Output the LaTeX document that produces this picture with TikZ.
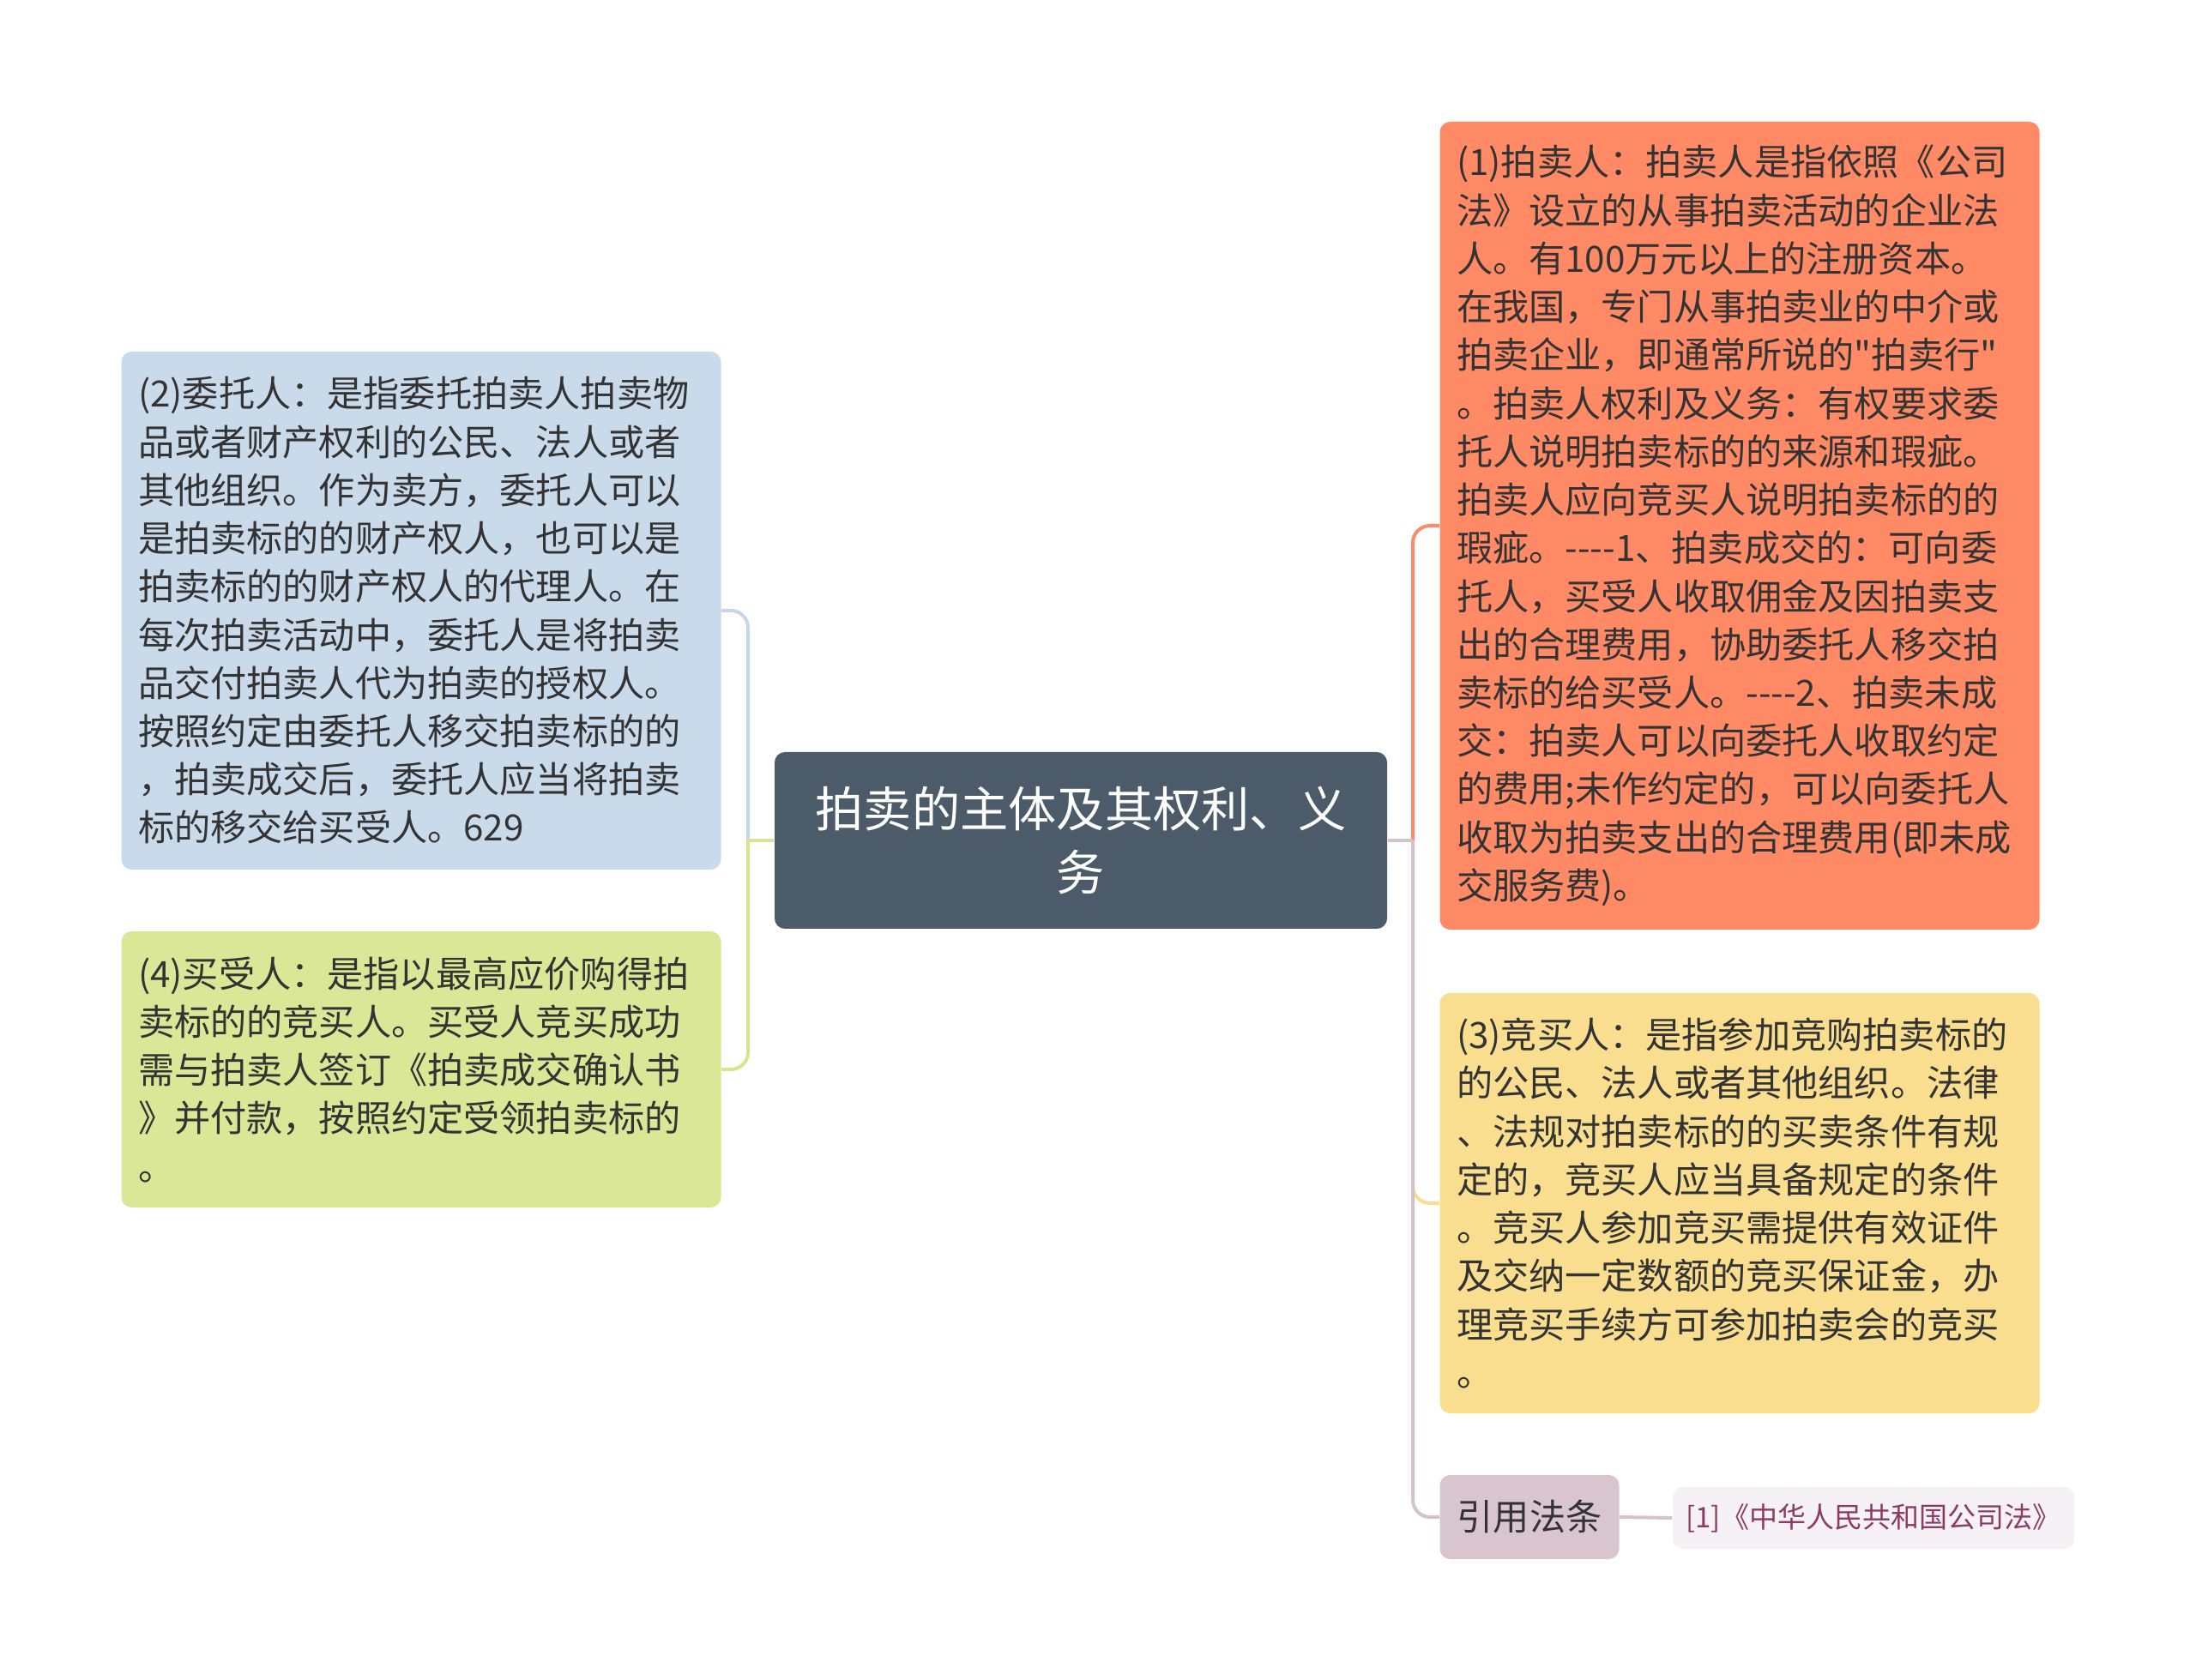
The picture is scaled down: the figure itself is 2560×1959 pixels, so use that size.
\documentclass[tikz,border=0pt]{standalone}
\usepackage{fontspec}
\newfontfamily\cjkfont{Noto Sans CJK SC}
\usepackage{tikz}
\usetikzlibrary{positioning}
\usetikzlibrary{calc}

\definecolor{rootfill}{HTML}{4B5B6A}
\definecolor{coralfill}{HTML}{FF8A65}
\definecolor{bluefill}{HTML}{C9DAEB}
\definecolor{greenfill}{HTML}{DAE796}
\definecolor{yellowfill}{HTML}{F8DE8E}
\definecolor{lavfill}{HTML}{D9C5CE}
\definecolor{notefill}{HTML}{F6F1F4}
\definecolor{notetext}{HTML}{8B3B66}
\definecolor{textgray}{HTML}{333333}
\definecolor{blueline}{HTML}{C3D6EA}
\definecolor{greenline}{HTML}{D6E58E}
\definecolor{lavline}{HTML}{D5C3CC}

\begin{document}
\begin{tikzpicture}[x=0.1mm,y=-0.1mm,
  box/.style={rectangle,rounded corners=1.2mm,inner xsep=1.95mm,text width=66mm,
    align=left,text=textgray,font=\cjkfont\fontsize{12pt}{16pt}\selectfont},
  rootbox/.style={rectangle,rounded corners=1.2mm,fill=rootfill,text=white,
    minimum width=71.4mm,minimum height=20.6mm,text width=65mm,align=center,
    font=\cjkfont\fontsize{16pt}{21pt}\selectfont},
  smallbox/.style={rectangle,rounded corners=1.2mm,align=center,inner sep=0pt},
  conn/.style={line width=0.4mm,rounded corners=2mm}]
\fill[white] (0,0) rectangle (2560,1959);
\useasboundingbox (0,0) rectangle (2560,1959);

\node[rootbox] (root) at (1260,980) {拍卖的主体及其权利、义\\务};

\node[box,fill=coralfill,minimum height=94.2mm] (paimai) at (2028,613) {(1)拍卖人：拍卖人是指依照《公司\\
法》设立的从事拍卖活动的企业法\\
人。有100万元以上的注册资本。\\
在我国，专门从事拍卖业的中介或\\
拍卖企业，即通常所说的"拍卖行"\\
。拍卖人权利及义务：有权要求委\\
托人说明拍卖标的的来源和瑕疵。\\
拍卖人应向竞买人说明拍卖标的的\\
瑕疵。----1、拍卖成交的：可向委\\
托人，买受人收取佣金及因拍卖支\\
出的合理费用，协助委托人移交拍\\
卖标的给买受人。----2、拍卖未成\\
交：拍卖人可以向委托人收取约定\\
的费用;未作约定的，可以向委托人\\
收取为拍卖支出的合理费用(即未成\\
交服务费)。};

\node[box,fill=yellowfill,minimum height=49mm] (jingmai) at (2028,1403) {(3)竞买人：是指参加竞购拍卖标的\\
的公民、法人或者其他组织。法律\\
、法规对拍卖标的的买卖条件有规\\
定的，竞买人应当具备规定的条件\\
。竞买人参加竞买需提供有效证件\\
及交纳一定数额的竞买保证金，办\\
理竞买手续方可参加拍卖会的竞买\\
。};

\node[smallbox,fill=lavfill,text=textgray,minimum width=20.9mm,minimum height=9.8mm,
  font=\cjkfont\fontsize{12pt}{16pt}\selectfont] (yinyong) at (1783,1769) {引用法条};

\node[smallbox,fill=notefill,text=notetext,minimum width=46.8mm,minimum height=7.2mm,
  font=\cjkfont\fontsize{9.4pt}{12pt}\selectfont] (fatiao) at (2184,1770) {[1]《中华人民共和国公司法》};

\node[box,fill=bluefill,minimum height=60.4mm] (weituo) at (491,712) {(2)委托人：是指委托拍卖人拍卖物\\
品或者财产权利的公民、法人或者\\
其他组织。作为卖方，委托人可以\\
是拍卖标的的财产权人，也可以是\\
拍卖标的的财产权人的代理人。在\\
每次拍卖活动中，委托人是将拍卖\\
品交付拍卖人代为拍卖的授权人。\\
按照约定由委托人移交拍卖标的的\\
，拍卖成交后，委托人应当将拍卖\\
标的移交给买受人。629};

\node[box,fill=greenfill,minimum height=32.2mm] (maishou) at (491,1247) {(4)买受人：是指以最高应价购得拍\\
卖标的的竞买人。买受人竞买成功\\
需与拍卖人签订《拍卖成交确认书\\
》并付款，按照约定受领拍卖标的\\
。};

\coordinate (rtrunk) at (1647,980);
\coordinate (ltrunk) at (872,980);

\draw[conn,coralfill] (rtrunk) |- (paimai.west);
\draw[conn,yellowfill] (rtrunk) |- (jingmai.west);
\draw[conn,lavline] (rtrunk) |- (yinyong.west);
\draw[conn,lavline] (root.east) -- (rtrunk);
\draw[conn,blueline] (ltrunk) |- (weituo.east);
\draw[conn,greenline] (ltrunk) |- (maishou.east);
\draw[conn,greenline] (root.west) -- (ltrunk);
\draw[conn,lavline] (yinyong.east) -- (fatiao.west);
\end{tikzpicture}
\end{document}
